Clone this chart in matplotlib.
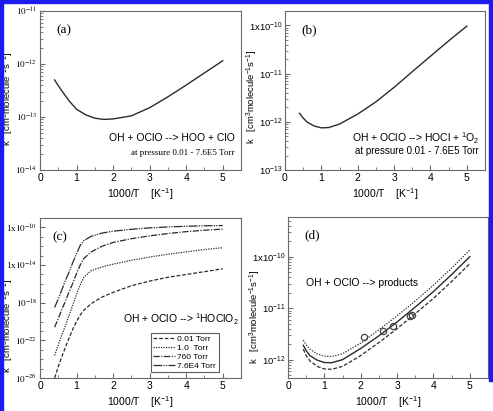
import numpy as np
import matplotlib
matplotlib.use("Agg")
import matplotlib.pyplot as plt
from matplotlib.ticker import FixedLocator, LogLocator, MultipleLocator, NullFormatter
from matplotlib.patches import Rectangle

plt.rcParams['font.family'] = ['Liberation Sans', 'DejaVu Sans']
plt.rcParams['mathtext.fontset'] = 'custom'
plt.rcParams['mathtext.rm'] = 'Liberation Sans'
plt.rcParams['mathtext.it'] = 'Liberation Sans:italic'
plt.rcParams['mathtext.bf'] = 'Liberation Sans:bold'

# (a) OH + OClO -> HOO + ClO
xa = [0.4, 0.5, 0.6, 0.8, 1.0, 1.25, 1.5, 1.75, 2.0, 2.5, 3.0, 3.5, 4.0, 4.5, 5.0]
ka = [5.0e-13, 3.9e-13, 3.1e-13, 2.0e-13, 1.4e-13, 1.1e-13, 9.5e-14, 9.0e-14,
      9.2e-14, 1.05e-13, 1.5e-13, 2.4e-13, 4.0e-13, 6.8e-13, 1.15e-12]

# (b) OH + OClO -> HOCl + 1O2
xb = [0.4, 0.5, 0.6, 0.8, 1.0, 1.2, 1.5, 2.0, 2.5, 3.0, 3.5, 4.0, 4.5, 5.0]
kb = [1.5e-12, 1.2e-12, 1.0e-12, 8.2e-13, 7.5e-13, 7.6e-13, 9.0e-13, 1.45e-12,
      2.6e-12, 5.2e-12, 1.1e-11, 2.3e-11, 4.8e-11, 9.7e-11]

# (c) OH + OClO -> 1HOClO2, log10(k) at four pressures
xc = [0.4, 0.5, 0.6, 0.7, 0.8, 0.9, 1.0, 1.1, 1.2, 1.4, 1.7, 2.0, 2.5, 3.0, 3.5, 4.0, 4.5, 5.0]
logk_001 = [-26.0, -24.8, -23.7, -22.7, -21.7, -20.8, -20.0, -19.3, -18.8, -18.1,
            -17.4, -16.9, -16.2, -15.7, -15.3, -15.0, -14.7, -14.4]
logk_1 = [-23.6, -22.5, -21.4, -20.4, -19.3, -18.2, -17.1, -16.1, -15.3, -14.6,
          -14.2, -13.9, -13.5, -13.15, -12.85, -12.6, -12.35, -12.15]
logk_760 = [-20.6, -19.7, -18.7, -17.8, -16.8, -15.9, -14.9, -14.0, -13.3, -12.6,
            -12.0, -11.6, -11.2, -10.9, -10.65, -10.45, -10.3, -10.18]
logk_76e4 = [-18.5, -17.6, -16.6, -15.6, -14.7, -13.7, -12.8, -11.9, -11.4, -10.95,
             -10.6, -10.4, -10.2, -10.05, -9.95, -9.88, -9.83, -9.8]
pressures = ["0.01 Torr", "1.0  Torr", "760 Torr", "7.6E4 Torr"]

# (d) OH + OClO -> products
xd = [0.42, 0.5, 0.6, 0.8, 1.0, 1.2, 1.5, 2.0, 2.5, 3.0, 3.5, 4.0, 4.5, 5.0]
kd_mid = [1.9e-12, 1.5e-12, 1.2e-12, 9.8e-13, 8.8e-13, 8.7e-13, 1.0e-12, 1.65e-12,
          2.9e-12, 5.4e-12, 1.05e-11, 2.1e-11, 4.5e-11, 1.0e-10]
kd_up = [2.4e-12, 1.95e-12, 1.6e-12, 1.3e-12, 1.17e-12, 1.15e-12, 1.3e-12, 2.1e-12,
         3.8e-12, 7.1e-12, 1.38e-11, 2.8e-11, 6.0e-11, 1.35e-10]
kd_low = [1.6e-12, 1.2e-12, 9.5e-13, 7.4e-13, 6.6e-13, 6.5e-13, 7.4e-13, 1.2e-12,
          2.15e-12, 4.0e-12, 7.8e-12, 1.55e-11, 3.3e-11, 7.3e-11]
x_exp = [2.1, 2.62, 2.9, 3.35, 3.42]
k_exp = [2.7e-12, 3.6e-12, 4.6e-12, 7.2e-12, 7.5e-12]

W, H = 493, 411
fig = plt.figure(figsize=(W / 100, H / 100), dpi=100)

def box(l, r, t, b):
    return [l / W, 1 - b / H, (r - l) / W, (b - t) / H]

LC = '#2a2a2a'
SC = '#6a6a6a'

def style(ax, ylim, major, labels, serif, label_x, label_y, minor_all=True):
    ax.set_xlim(0, 5.5)
    ax.set_yscale('log')
    ax.set_ylim(*ylim)
    ax.xaxis.set_major_locator(MultipleLocator(1))
    ax.xaxis.set_minor_locator(MultipleLocator(0.5))
    ax.yaxis.set_major_locator(FixedLocator(major))
    ax.set_yticklabels(labels)
    if minor_all:
        ax.yaxis.set_minor_locator(LogLocator(base=10, subs=np.arange(2, 10), numticks=50))
    else:
        ax.yaxis.set_minor_locator(LogLocator(base=10, subs=[1.0], numticks=50))
    ax.yaxis.set_minor_formatter(NullFormatter())
    ax.tick_params(which='both', direction='in', color=SC)
    ax.tick_params(axis='x', labelsize=7.5, pad=2.5)
    ax.tick_params(axis='y', labelsize=6.6 if serif else 6.8, pad=2)
    ax.tick_params(which='major', length=3.5, width=0.8)
    ax.tick_params(which='minor', length=2, width=0.6)
    for s in ax.spines.values():
        s.set_color(SC)
        s.set_linewidth(0.8)
    ax.set_xlabel(r'1000/T    [K$^{-1}$]', fontsize=7.5, labelpad=2)
    ax.set_ylabel(r'k   [cm$^3$molecule$^{-1}$s$^{-1}$]', fontsize=6.8)
    ax.yaxis.set_label_coords(label_x, label_y)
    if serif:
        for t in ax.get_yticklabels():
            t.set_family('Liberation Serif')
            t.set_math_fontfamily('stix')

# (a)
ax = fig.add_axes(box(40, 241, 11, 170))
ax.plot(xa, ka, color=LC, lw=1.0)
style(ax, (1e-14, 1e-11), [1e-14, 1e-13, 1e-12, 1e-11],
      [r'$10^{-14}$', r'$10^{-13}$', r'$10^{-12}$', r'$10^{-11}$'], True, -0.117, 0.45)
ax.text(0.08, 0.86, '(a)', transform=ax.transAxes, fontsize=9.5, family='Liberation Serif')
ax.text(0.97, 0.2, 'OH + OClO --> HOO + ClO', transform=ax.transAxes,
        fontsize=7.5, ha='right', va='center')
ax.text(0.97, 0.105, 'at pressure 0.01 - 7.6E5 Torr', transform=ax.transAxes,
        fontsize=6.5, ha='right', va='center', family='Liberation Serif')

# (b)
ax = fig.add_axes(box(285, 485, 11, 170))
ax.plot(xb, kb, color=LC, lw=1.0)
style(ax, (1e-13, 2e-10), [1e-13, 1e-12, 1e-11, 1e-10],
      [r'$10^{-13}$', r'$10^{-12}$', r'$10^{-11}$', r'1x$10^{-10}$'], False, -0.127, 0.46)
ax.text(0.08, 0.86, '(b)', transform=ax.transAxes, fontsize=9.5, family='Liberation Serif')
ax.text(0.97, 0.2, r'OH + OClO --> HOCl + $^1$O$_2$', transform=ax.transAxes,
        fontsize=7.5, ha='right', va='center')
ax.text(0.97, 0.12, 'at pressure 0.01 - 7.6E5 Torr', transform=ax.transAxes,
        fontsize=7, ha='right', va='center')

# (c)
ax = fig.add_axes(box(40, 241, 218, 378))
styles = [(0, (3, 1.5)), (0, (1, 1)), (0, (5, 1.2, 1, 1.2)), (0, (7, 1, 1, 1, 1, 1))]
for lk, name, ls in zip([logk_001, logk_1, logk_760, logk_76e4], pressures, styles):
    ax.plot(xc, 10.0 ** np.array(lk), color=LC, lw=0.9, ls=ls, label=name)
style(ax, (1e-26, 1e-9), [1e-26, 1e-22, 1e-18, 1e-14, 1e-10],
      [r'$10^{-26}$', r'$10^{-22}$', r'$10^{-18}$', r'1x$10^{-14}$', r'1x$10^{-10}$'],
      True, -0.117, 0.33, minor_all=False)
ax.text(0.06, 0.86, '(c)', transform=ax.transAxes, fontsize=9.5, family='Liberation Serif')
ax.text(0.99, 0.37, r'OH + OClO --> $^1$HOClO$_2$', transform=ax.transAxes,
        fontsize=7.5, ha='right', va='center')
leg = ax.legend(loc='lower left', bbox_to_anchor=(0.53, 0.01), fontsize=6,
                handlelength=2.6, handletextpad=0.3, borderpad=0.3,
                labelspacing=0.12, frameon=True, fancybox=False)
leg.get_frame().set_edgecolor('#333333')
leg.get_frame().set_linewidth(0.8)

# (d)
ax = fig.add_axes(box(288, 488, 217, 378))
ax.plot(xd, kd_up, color=LC, lw=0.9, ls=(0, (1, 1.2)))
ax.plot(xd, kd_mid, color=LC, lw=1.0)
ax.plot(xd, kd_low, color=LC, lw=0.9, ls=(0, (3, 1.5)))
ax.plot(x_exp, k_exp, 'o', mfc='none', mec='#444444', ms=4.5, mew=0.9)
style(ax, (4.4e-13, 5.9e-10), [1e-12, 1e-11, 1e-10],
      [r'$10^{-12}$', r'$10^{-11}$', r'1x$10^{-10}$'], False, -0.127, 0.38)
ax.text(0.08, 0.87, '(d)', transform=ax.transAxes, fontsize=9.5, family='Liberation Serif')
ax.text(0.09, 0.59, 'OH + OClO --> products', transform=ax.transAxes,
        fontsize=7.5, ha='left', va='center')

# blue frame of the scan
blue = '#1c1cf0'
fig.patches.append(Rectangle((0, 0), 3 / W, 1, transform=fig.transFigure, color=blue, zorder=10))
fig.patches.append(Rectangle((0, 1 - 3 / H), 1, 3 / H, transform=fig.transFigure, color=blue, zorder=10))
fig.patches.append(Rectangle((1 - 4 / W, 1 - 381 / H), 4 / W, 381 / H,
                             transform=fig.transFigure, color=blue, zorder=10))

fig.savefig('out.png', dpi=100)
